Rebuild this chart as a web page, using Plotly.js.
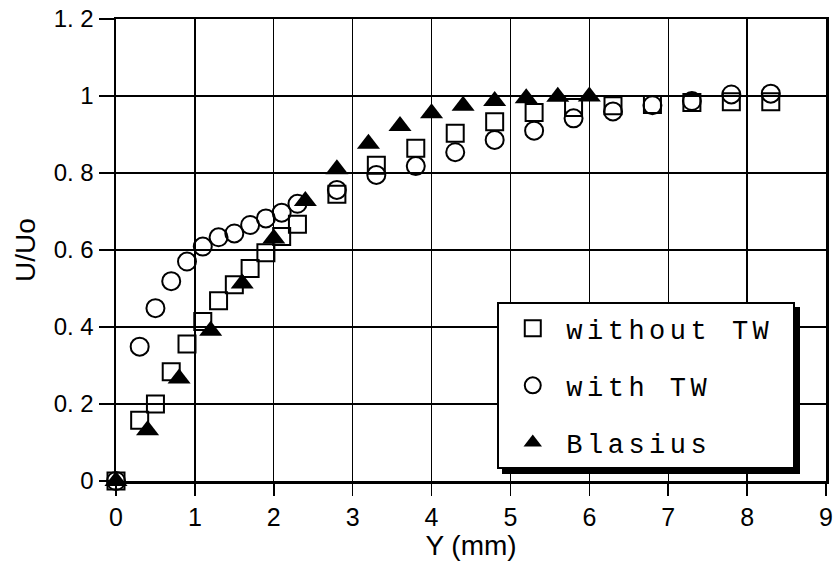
<!DOCTYPE html>
<html>
<head>
<meta charset="utf-8">
<script src="https://cdn.plot.ly/plotly-3.0.1.min.js"></script>
<style>
html, body { margin: 0; padding: 0; background: #fff; }
#chart { width: 840px; height: 566px; }
.legendtext { letter-spacing: 4.5px; }
</style>
</head>
<body>
<div id="chart"></div>
<script>
// Data
const xWithout = [0, 0.3, 0.5, 0.7, 0.9, 1.1, 1.3, 1.5, 1.7, 1.9, 2.1, 2.3, 2.8, 3.3, 3.8, 4.3, 4.8, 5.3, 5.8, 6.3, 6.8, 7.3, 7.8, 8.3];
const yWithout = [0, 0.158, 0.2, 0.284, 0.356, 0.414, 0.468, 0.51, 0.552, 0.593, 0.635, 0.667, 0.745, 0.82, 0.864, 0.903, 0.933, 0.957, 0.97, 0.975, 0.978, 0.983, 0.985, 0.985];

const xWith = [0, 0.3, 0.5, 0.7, 0.9, 1.1, 1.3, 1.5, 1.7, 1.9, 2.1, 2.3, 2.8, 3.3, 3.8, 4.3, 4.8, 5.3, 5.8, 6.3, 6.8, 7.3, 7.8, 8.3];
const yWith = [0, 0.349, 0.449, 0.519, 0.57, 0.609, 0.633, 0.643, 0.665, 0.682, 0.697, 0.72, 0.756, 0.795, 0.818, 0.854, 0.886, 0.91, 0.942, 0.96, 0.976, 0.987, 1.004, 1.006];

const xBlasius = [0, 0.4, 0.8, 1.2, 1.6, 2.0, 2.4, 2.8, 3.2, 3.6, 4.0, 4.4, 4.8, 5.2, 5.6, 6.0];
const yBlasius = [0, 0.132, 0.266, 0.39, 0.513, 0.63, 0.727, 0.81, 0.876, 0.922, 0.955, 0.975, 0.987, 0.994, 0.998, 0.999];

const seriesNames = ['without TW', 'with TW', 'Blasius'];

const yTickVals = [0, 0.2, 0.4, 0.6, 0.8, 1, 1.2];
const yTickText = ['0', '0. 2', '0. 4', '0. 6', '0. 8', '1', '1. 2'];
const xTickVals = [0, 1, 2, 3, 4, 5, 6, 7, 8, 9];
const xTickText = ['0', '1', '2', '3', '4', '5', '6', '7', '8', '9'];

const traces = [
  {
    x: xWithout, y: yWithout, name: seriesNames[0], type: 'scatter', mode: 'markers',
    legendgroup: 'a', cliponaxis: false,
    marker: { symbol: 'square-open', size: 17, color: '#000', line: { width: 2, color: '#000' } }
  },
  {
    x: xWith, y: yWith, name: seriesNames[1], type: 'scatter', mode: 'markers',
    legendgroup: 'b', cliponaxis: false,
    marker: { symbol: 'circle-open', size: 18, color: '#000', line: { width: 2, color: '#000' } }
  },
  {
    x: xBlasius, y: yBlasius, name: seriesNames[2], type: 'scatter', mode: 'markers',
    legendgroup: 'c', cliponaxis: false,
    marker: { symbol: 'triangle-up', size: 20, color: '#000', line: { width: 0 } }
  }
];

const layout = {
  width: 840, height: 566,
  margin: { l: 116, r: 14, t: 19, b: 85 },
  paper_bgcolor: '#fff', plot_bgcolor: '#fff',
  font: { family: 'Liberation Sans, Arial, sans-serif', color: '#000' },
  showlegend: true,
  legend: {
    x: 0.537, y: 0.387, xanchor: 'left', yanchor: 'top',
    bgcolor: '#fff', bordercolor: '#000', borderwidth: 2,
    font: { family: 'Liberation Mono, DejaVu Sans Mono, monospace', size: 27, color: '#000' },
    tracegroupgap: 19, itemwidth: 57
  },
  xaxis: {
    range: [0, 9], tickvals: xTickVals, ticktext: xTickText,
    showgrid: true, gridcolor: '#000', gridwidth: 1.4,
    zeroline: false, showline: true, linecolor: '#000', linewidth: 2.5, mirror: true,
    ticks: 'outside', ticklen: 12, tickwidth: 1.5, tickcolor: '#000',
    tickfont: { size: 25, family: 'Liberation Sans, Arial, sans-serif' },
    title: { text: 'Y (mm)', font: { size: 28, family: 'Liberation Sans, Arial, sans-serif' }, standoff: 4 }
  },
  yaxis: {
    range: [0, 1.2], tickvals: yTickVals, ticktext: yTickText,
    showgrid: true, gridcolor: '#000', gridwidth: 1.4,
    zeroline: false, showline: true, linecolor: '#000', linewidth: 2.5, mirror: true,
    ticks: 'outside', ticklen: 15, tickwidth: 1.5, tickcolor: '#000',
    tickfont: { size: 24, family: 'Liberation Sans, Arial, sans-serif' },
    title: { text: 'U/Uo', font: { size: 28, family: 'Liberation Sans, Arial, sans-serif' }, standoff: 10 }
  }
};

Plotly.newPlot('chart', traces, layout, { displayModeBar: false, staticPlot: true }).then(function (gd) {
  const bg = gd.querySelector('.legend .bg');
  if (bg) {
    // a little extra right padding, as in the reference box
    const w = parseFloat(bg.getAttribute('width'));
    if (!isNaN(w)) bg.setAttribute('width', w + 14);
    // drop shadow behind the legend box
    const sh = bg.cloneNode(true);
    sh.setAttribute('class', 'legendshadow');
    sh.style.fill = '#000';
    sh.style.stroke = '#000';
    const g = document.createElementNS('http://www.w3.org/2000/svg', 'g');
    g.setAttribute('transform', 'translate(5,5)');
    g.appendChild(sh);
    bg.parentNode.insertBefore(g, bg);
  }
});
</script>
</body>
</html>
